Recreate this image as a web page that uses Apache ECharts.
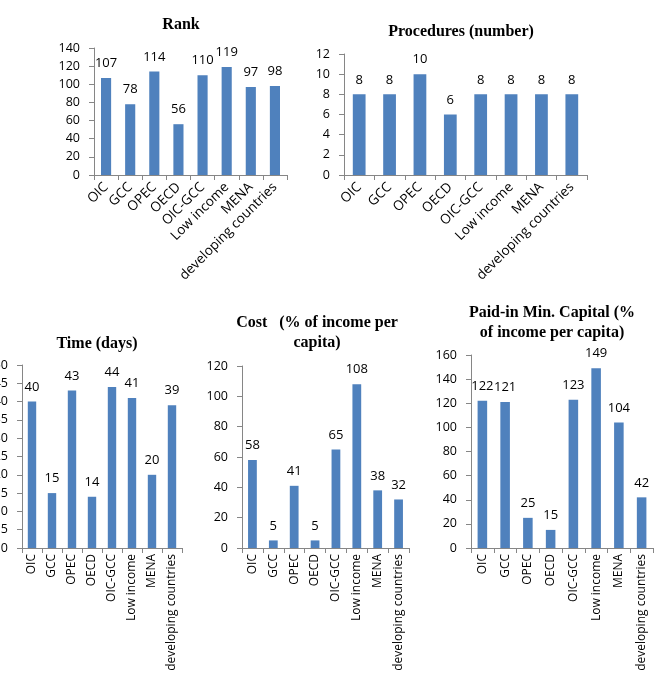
<!DOCTYPE html>
<html><head><meta charset="utf-8">
<script src="https://cdn.jsdelivr.net/npm/echarts@6/dist/echarts.min.js"></script>
<style>html,body{margin:0;padding:0;background:#fff}#c{width:660px;height:678px}</style>
</head><body><div id="c"></div>
<script>
const categories = ["OIC","GCC","OPEC","OECD","OIC-GCC","Low income","MENA","developing countries"];
const rankValues = [107,78,114,56,110,119,97,98];
const procValues = [8,8,10,6,8,8,8,8];
const timeValues = [40,15,43,14,44,41,20,39];
const costValues = [58,5,41,5,65,108,38,32];
const capitalValues = [122,121,25,15,123,149,104,42];
const titles = ["Rank","Procedures (number)","Time (days)","Cost   (% of income per\ncapita)","Paid-in Min. Capital (%\nof income per capita)"];

const panels = [
  {vals: rankValues, max:140, interval:20, rot:45, xfs:13.5, xm:10, g:{left:94, top:48, width:193, height:127}, t:{x:176, y:10}},
  {vals: procValues, max:12, interval:2, rot:45, xfs:13.5, xm:10, g:{left:344, top:54, width:243, height:121}, t:{x:456, y:17}},
  {vals: timeValues, max:50, interval:5, rot:90, xfs:12, xm:6, g:{left:22, top:365, width:160, height:183}, t:{x:92, y:329}},
  {vals: costValues, max:120, interval:20, rot:90, xfs:12, xm:6, g:{left:242, top:366, width:167, height:182}, t:{x:312, y:308}},
  {vals: capitalValues, max:160, interval:20, rot:90, xfs:12, xm:6, g:{left:471, top:355, width:182, height:193}, t:{x:547, y:298}}
];
const axisColor = "#868686";
const font = "'Open Sans', 'Liberation Sans', sans-serif";
const option = {
  animation:false,
  backgroundColor:"#fff",
  title: panels.map((p,i)=>({text:titles[i], left:p.t.x, top:p.t.y, textAlign:"center",
    textStyle:{fontFamily:"'Liberation Serif', serif", fontWeight:"bold", fontSize:16, color:"#000", lineHeight:20}})),
  grid: panels.map(p=>Object.assign({containLabel:false, outerBoundsMode:"none"}, p.g)),
  xAxis: panels.map((p,i)=>({type:"category", gridIndex:i, data:categories,
    axisLine:{lineStyle:{color:axisColor}}, axisTick:{show:true, length:5, lineStyle:{color:axisColor}},
    axisLabel:{interval:0, rotate:p.rot, color:"#000", fontFamily:font, fontSize:p.xfs, margin:p.xm}})),
  yAxis: panels.map((p,i)=>({type:"value", gridIndex:i, min:0, max:p.max, interval:p.interval,
    axisLine:{show:true, lineStyle:{color:axisColor}}, axisTick:{show:true, length:5, lineStyle:{color:axisColor}},
    splitLine:{show:false}, axisLabel:{color:"#000", fontFamily:font, fontSize:12.5, margin:14}})),
  series: panels.map((p,i)=>({type:"bar", xAxisIndex:i, yAxisIndex:i, data:p.vals, barWidth:"42%",
    itemStyle:{color:"#4F81BD"}, label:{show:true, position:"top", distance:8, color:"#000", fontFamily:font, fontSize:13}}))
};
echarts.init(document.getElementById("c")).setOption(option);
</script></body></html>
